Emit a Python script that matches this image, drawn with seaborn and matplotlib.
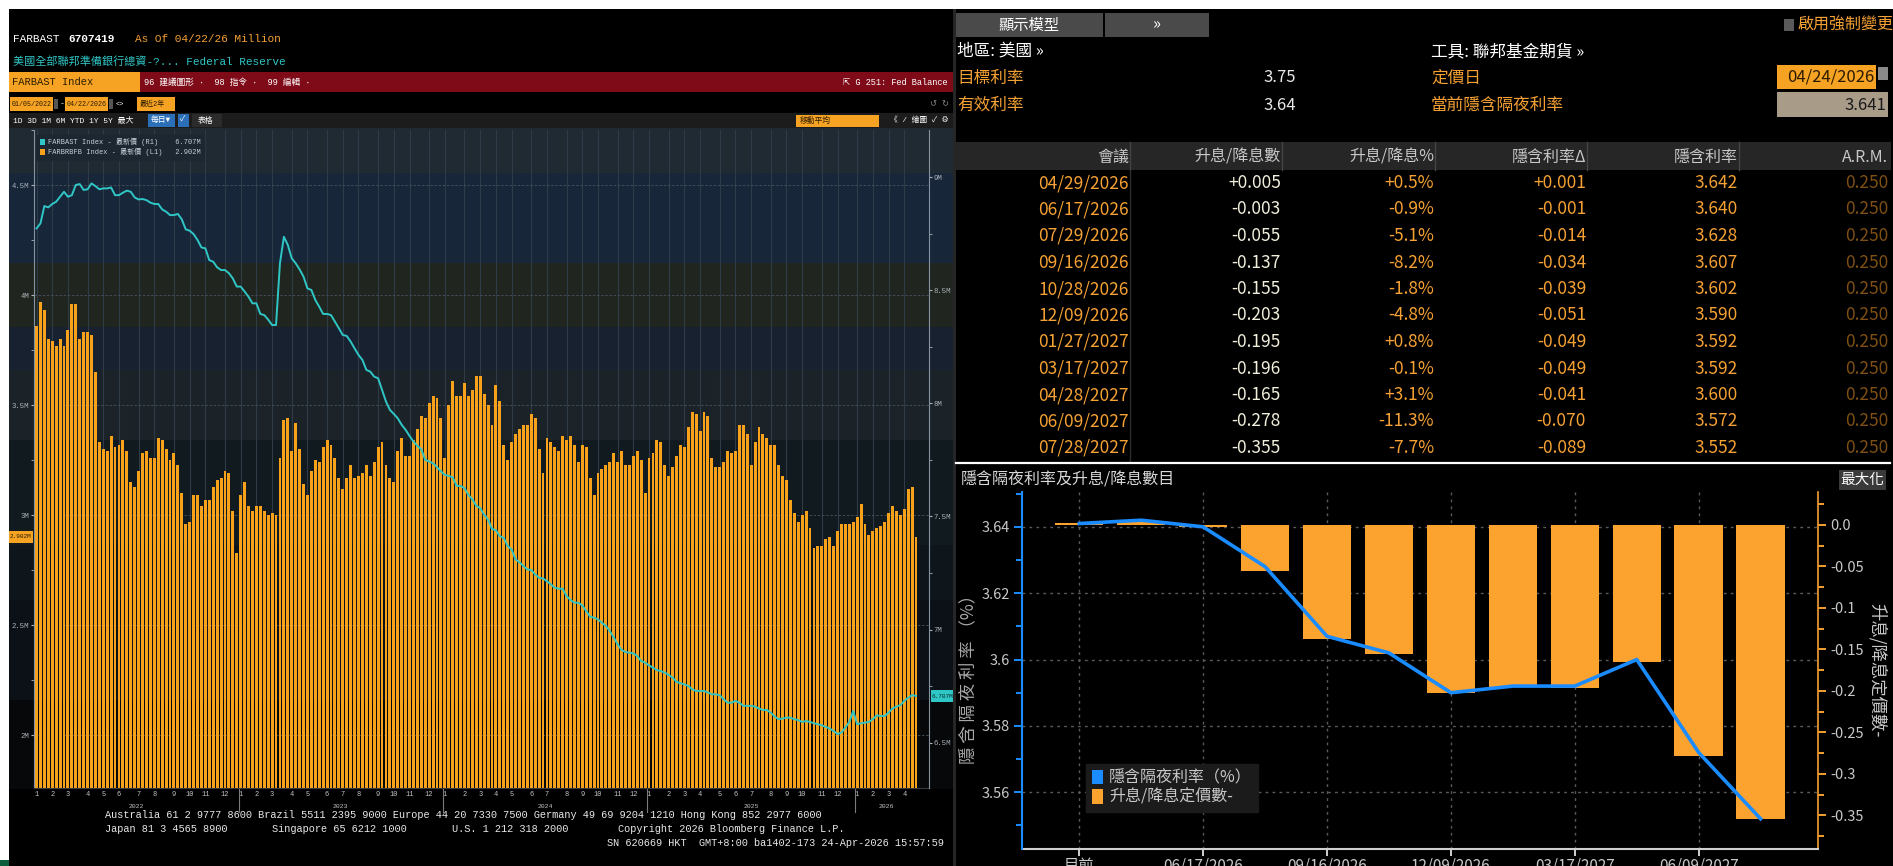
import numpy as np
import pandas as pd
import seaborn as sns
import matplotlib.pyplot as plt
from matplotlib.patches import Rectangle, Patch

W, H = 1893, 866
CJK = ['Noto Sans CJK TC', 'DejaVu Sans']
MONO = ['Liberation Mono', 'Noto Sans CJK TC', 'DejaVu Sans']

plt.rcParams['font.family'] = CJK
plt.rcParams['axes.unicode_minus'] = False

# ---------------- left chart data (weekly, millions -> M) ----------------
# FARBRBFB (reserve balances, left axis, bars)
reserves_2022 = [3.86, 3.97, 3.93, 3.80, 3.79, 3.77, 3.80, 3.77, 3.84, 3.96,
                 3.96, 3.80, 3.83, 3.83, 3.82, 3.65, 3.33, 3.30, 3.29, 3.36,
                 3.31, 3.32, 3.34, 3.29, 3.15, 3.13, 3.20, 3.28, 3.29, 3.26,
                 3.26, 3.35, 3.34, 3.30, 3.25, 3.28, 3.23, 3.10, 2.96, 2.97,
                 3.09, 3.09, 3.04, 3.07, 3.07, 3.13, 3.16, 3.17, 3.20, 3.19,
                 3.02, 2.83]
reserves_2023 = [3.09, 3.15, 3.04, 3.02, 3.04, 3.04, 3.02, 3.00, 3.01, 3.00,
                 3.26, 3.43, 3.44, 3.29, 3.42, 3.30, 3.14, 3.09, 3.20, 3.25,
                 3.24, 3.31, 3.34, 3.32, 3.26, 3.17, 3.12, 3.17, 3.23, 3.17,
                 3.18, 3.19, 3.23, 3.18, 3.24, 3.31, 3.33, 3.23, 3.17, 3.15,
                 3.29, 3.35, 3.27, 3.27, 3.34, 3.39, 3.45, 3.44, 3.51, 3.54,
                 3.53, 3.44]
reserves_2024 = [3.26, 3.50, 3.61, 3.54, 3.54, 3.60, 3.54, 3.57, 3.63, 3.63,
                 3.55, 3.50, 3.41, 3.59, 3.52, 3.32, 3.25, 3.33, 3.37, 3.39,
                 3.41, 3.41, 3.46, 3.44, 3.30, 3.19, 3.35, 3.33, 3.31, 3.29,
                 3.36, 3.34, 3.36, 3.32, 3.24, 3.32, 3.31, 3.17, 3.09, 3.19,
                 3.21, 3.23, 3.24, 3.28, 3.24, 3.29, 3.23, 3.23, 3.27, 3.29,
                 3.25, 3.10]
reserves_2025 = [3.26, 3.28, 3.34, 3.33, 3.23, 3.18, 3.22, 3.27, 3.32, 3.31,
                 3.40, 3.47, 3.46, 3.38, 3.47, 3.45, 3.26, 3.22, 3.22, 3.24,
                 3.29, 3.28, 3.29, 3.41, 3.41, 3.37, 3.23, 3.33, 3.40, 3.37,
                 3.35, 3.32, 3.32, 3.23, 3.18, 3.16, 3.07, 3.01, 2.97, 3.00,
                 3.02, 2.94, 2.85, 2.86, 2.86, 2.89, 2.90, 2.86, 2.93, 2.96,
                 2.96, 2.96, 2.97]
reserves_2026 = [2.99, 3.05, 2.96, 2.91, 2.93, 2.94, 2.95, 2.97, 3.01, 3.04,
                 3.02, 3.00, 3.03, 3.12, 3.13, 2.902]

# FARBAST (total assets, right axis, line)
assets_2022 = [8.773, 8.795, 8.872, 8.866, 8.881, 8.891, 8.913, 8.935, 8.913, 8.920,
               8.965, 8.969, 8.943, 8.946, 8.972, 8.960, 8.946, 8.950, 8.950, 8.954,
               8.920, 8.920, 8.931, 8.940, 8.935, 8.910, 8.901, 8.903, 8.898, 8.887,
               8.881, 8.881, 8.857, 8.847, 8.832, 8.832, 8.837, 8.813, 8.769, 8.763,
               8.748, 8.722, 8.689, 8.685, 8.633, 8.626, 8.601, 8.589, 8.589, 8.575,
               8.552, 8.516]
assets_2023 = [8.516, 8.494, 8.471, 8.442, 8.442, 8.395, 8.390, 8.370, 8.346, 8.346,
               8.619, 8.736, 8.700, 8.641, 8.619, 8.592, 8.560, 8.508, 8.501, 8.457,
               8.427, 8.395, 8.395, 8.390, 8.361, 8.332, 8.302, 8.298, 8.273, 8.243,
               8.214, 8.192, 8.148, 8.140, 8.118, 8.111, 8.059, 8.008, 7.971, 7.953,
               7.934, 7.905, 7.883, 7.856, 7.831, 7.812, 7.797, 7.750, 7.743, 7.735,
               7.718, 7.699]
assets_2024 = [7.684, 7.679, 7.673, 7.635, 7.635, 7.625, 7.595, 7.576, 7.547, 7.537,
               7.508, 7.486, 7.445, 7.439, 7.413, 7.405, 7.369, 7.354, 7.310, 7.298,
               7.281, 7.266, 7.263, 7.244, 7.229, 7.226, 7.214, 7.200, 7.185, 7.181,
               7.181, 7.148, 7.131, 7.119, 7.119, 7.107, 7.082, 7.057, 7.053, 7.045,
               7.030, 7.016, 6.994, 6.965, 6.935, 6.910, 6.901, 6.898, 6.895, 6.883,
               6.861, 6.854]
assets_2025 = [6.842, 6.832, 6.821, 6.817, 6.810, 6.800, 6.788, 6.769, 6.763, 6.758,
               6.751, 6.736, 6.729, 6.729, 6.729, 6.722, 6.714, 6.714, 6.710, 6.692,
               6.677, 6.677, 6.685, 6.677, 6.663, 6.663, 6.663, 6.660, 6.651, 6.645,
               6.645, 6.633, 6.616, 6.604, 6.607, 6.611, 6.611, 6.604, 6.600, 6.592,
               6.596, 6.592, 6.586, 6.582, 6.577, 6.570, 6.563, 6.552, 6.538, 6.545,
               6.567, 6.592, 6.640]
assets_2026 = [6.582, 6.586, 6.589, 6.592, 6.604, 6.621, 6.618, 6.618, 6.633, 6.651,
               6.660, 6.666, 6.685, 6.699, 6.710, 6.707]

left_ticks = [2.0, 2.5, 3.0, 3.5, 4.0, 4.5]
left_tick_labels = ['2M', '2.5M', '3M', '3.5M', '4M', '4.5M']
right_ticks = [6.5, 7.0, 7.5, 8.0, 8.5, 9.0]
right_tick_labels = ['6.5M', '7M', '7.5M', '8M', '8.5M', '9M']

# ---------------- fed funds futures table ----------------
meetings = ['04/29/2026', '06/17/2026', '07/29/2026', '09/16/2026', '10/28/2026',
            '12/09/2026', '01/27/2027', '03/17/2027', '04/28/2027', '06/09/2027',
            '07/28/2027']
hike_cut_num = [0.005, -0.003, -0.055, -0.137, -0.155, -0.203, -0.195, -0.196,
                -0.165, -0.278, -0.355]
hike_cut_pct = [0.5, -0.9, -5.1, -8.2, -1.8, -4.8, 0.8, -0.1, 3.1, -11.3, -7.7]
implied_delta = [0.001, -0.001, -0.014, -0.034, -0.039, -0.051, -0.049, -0.049,
                 -0.041, -0.070, -0.089]
implied_rate = [3.642, 3.640, 3.628, 3.607, 3.602, 3.590, 3.592, 3.592, 3.600,
                3.572, 3.552]
arm = [0.250] * 11
table_headers = ['會議', '升息/降息數', '升息/降息%', '隱含利率Δ', '隱含利率', 'A.R.M.']

# ---------------- implied rate chart ----------------
chart_labels = ['目前'] + meetings
chart_rate = [3.641] + implied_rate
chart_bars = [0.002] + hike_cut_num
chart_ticks = [0, 2, 4, 6, 8, 10]
rate_ticks = [3.56, 3.58, 3.60, 3.62, 3.64]
rate_tick_labels = ['3.56', '3.58', '3.6', '3.62', '3.64']
count_ticks = [0.0, -0.05, -0.1, -0.15, -0.2, -0.25, -0.3, -0.35]
count_tick_labels = ['0.0', '-0.05', '-0.1', '-0.15', '-0.2', '-0.25', '-0.3', '-0.35']

ORANGE = '#f5a133'
CYAN = '#2fc6c6'
BAR_ORANGE = '#f8a21c'
BLUE = '#1a8cff'


fig = plt.figure(figsize=(W / 100, H / 100), dpi=100)
fig.patch.set_facecolor('white')

bg = fig.add_axes([0, 0, 1, 1], zorder=-1)
bg.set_xlim(0, W)
bg.set_ylim(H, 0)
bg.axis('off')


def axes_px(x0, y0, x1, y1, **kw):
    return fig.add_axes([x0 / W, 1 - y1 / H, (x1 - x0) / W, (y1 - y0) / H], **kw)


def box(x0, y0, x1, y1, color, ax=None):
    (ax or bg).add_patch(Rectangle((x0, y0), x1 - x0, y1 - y0, facecolor=color,
                                   edgecolor='none', lw=0))


def put(x, y, s, color='white', size=8, ha='left', va='center', family=None, ax=None, **kw):
    (ax or bg).text(x, y, s, color=color, fontsize=size, ha=ha, va=va,
                    family=family or CJK, **kw)


# panels
box(9, 9, 953, H, 'black')
box(953, 9, 956, H, '#262626')
box(956, 9, W, H, 'black')
box(0, 860, 9, H, '#0b5d3b')

# ---------------- left panel header ----------------
put(13, 39, 'FARBAST', 'white', 8, family=MONO)
put(68, 39, '6707419', 'white', 8, family=MONO, weight='bold')
put(135, 39, 'As Of 04/22/26 Million', ORANGE, 8, family=MONO)
put(13, 62, '美國全部聯邦準備銀行總資-?... Federal Reserve', CYAN, 8, family=MONO)
box(9, 72, 953, 92, '#7e0b17')
box(9, 72, 140, 92, '#f6a323')
put(12, 82, 'FARBAST Index', '#2a1a00', 7.5, family=MONO)
put(144, 82, '96 建議圖形 ·  98 指令 ·  99 編輯 ·', 'white', 6.2, family=MONO)
put(948, 82, '⇱ G 251: Fed Balance', 'white', 6.2, ha='right', family=MONO)

box(10, 97, 53, 111, '#f6a323')
put(31.5, 104, '01/05/2022', '#2a1a00', 4.8, ha='center', family=MONO)
box(54, 99, 58, 109, '#555555')
put(60, 104, '-', 'white', 6, family=MONO)
box(65, 97, 108, 111, '#f6a323')
put(86.5, 104, '04/22/2026', '#2a1a00', 4.8, ha='center', family=MONO)
box(109, 99, 113, 109, '#555555')
put(116, 104, '<>', 'white', 5, family=MONO)
box(137, 97, 175, 111, '#f6a323')
put(140, 104, '最近2年', '#2a1a00', 5, family=MONO)
put(949, 104, '↺ ↻', '#888888', 6, ha='right', family=MONO)

box(9, 113, 953, 128, '#1c1c1c')
put(13, 120.5, '1D 3D 1M 6M YTD 1Y 5Y 最大', 'white', 5.8, family=MONO)
box(148, 114, 175, 127, '#2a6fb8')
put(151, 120.5, '每日▼', 'white', 5.6, family=MONO)
box(178, 114, 189, 127, '#2a6fb8')
put(180, 120.5, '✓', 'white', 5.6, family=MONO)
box(192, 114, 222, 127, '#2b2b2b')
put(198, 120.5, '表格', 'white', 5.6, family=MONO)
box(796, 115, 879, 127, '#f6a323')
put(800, 121, '移動平均', '#2a1a00', 5.6, family=MONO)
put(949, 120.5, '《 / 繪圖 ✓ ⚙', 'white', 5.6, ha='right', family=MONO)

# chart background bands
bands = [(128, 173, '#1f2a33'), (173, 263, '#18263a'), (263, 327, '#20261f'),
         (327, 370, '#182130'), (370, 440, '#1b2329'), (440, 545, '#111a1e'),
         (545, 600, '#0f161b'), (600, 700, '#0b1116'), (700, 789, '#060809')]
for y0, y1, c in bands:
    box(9, y0, 953, y1, c)

# ---------------- left chart ----------------
reserves = reserves_2022 + reserves_2023 + reserves_2024 + reserves_2025 + reserves_2026
assets = assets_2022 + assets_2023 + assets_2024 + assets_2025 + assets_2026
n = len(reserves)
weeks = pd.date_range('2022-01-05', periods=n, freq='W-WED')
fed = pd.DataFrame({'week': np.arange(n), 'reserves': reserves, 'assets': assets})

ax = axes_px(34, 130, 929, 788)
ax.patch.set_alpha(0)
sns.barplot(data=fed, x='week', y='reserves', native_scale=True, errorbar=None,
            color=BAR_ORANGE, saturation=1, width=0.74, ax=ax)
xlim = (-0.64, n - 1 + 3.3)
ax.set_xlim(*xlim)
ax.set_ylim(1.76, 4.74)
ax.set_yticks(left_ticks)
ax.set_yticklabels(left_tick_labels, family=MONO)
ax.set_yticks([v + 0.25 for v in left_ticks], minor=True)
month_idx = [i for i in range(n) if i == 0 or weeks[i].month != weeks[i - 1].month]
ax.set_xticks(month_idx)
ax.set_xticklabels([str(weeks[i].month) for i in month_idx], family=MONO)
ax.tick_params(axis='x', length=0, pad=2.5, labelsize=5, labelcolor='#c4c4c4')
ax.tick_params(axis='y', which='both', length=2, pad=1.5, labelsize=5.2,
               labelcolor='#aab2ba', color='#aab2ba')
ax.set_axisbelow(True)
ax.grid(True, axis='x', color='#2f3b46', lw=0.8)
ax.grid(True, axis='y', color='#46525c', lw=0.6, ls=(0, (3, 2)))
ax.set_xlabel('')
ax.set_ylabel('')
for s in ['top', 'right']:
    ax.spines[s].set_visible(False)
ax.spines['left'].set_color('#8593a0')
ax.spines['bottom'].set_color('#3a3a3a')

for yr in sorted(set(weeks.year)):
    idx = np.where(weeks.year == yr)[0]
    ax.text(idx.mean(), -0.028, str(yr), transform=ax.get_xaxis_transform(),
            ha='center', va='center', fontsize=4.6, color='#c4c4c4', family=MONO)
    if idx[0] > 0:
        ax.plot([idx[0] - 0.5] * 2, [-0.002, -0.036], transform=ax.get_xaxis_transform(),
                clip_on=False, color='#7a7a7a', lw=0.8)

ax2 = ax.twinx()
sns.lineplot(data=fed, x='week', y='assets', color=CYAN, linewidth=1.4, ax=ax2)
ax2.set_xlim(*xlim)
ax2.set_ylim(6.30, 9.208)
ax2.set_yticks(right_ticks)
ax2.set_yticklabels(right_tick_labels, family=MONO)
ax2.set_yticks([v + 0.25 for v in right_ticks[:-1]], minor=True)
ax2.tick_params(axis='y', which='both', length=2, pad=1.5, labelsize=5.2,
                labelcolor='#aab2ba', color='#aab2ba')
ax2.set_ylabel('')
ax2.set_xlabel('')
for s in ['top', 'left', 'bottom']:
    ax2.spines[s].set_visible(False)
ax2.spines['right'].set_color('#8593a0')
ax2.legend(handles=[Patch(fc=CYAN), Patch(fc=BAR_ORANGE)],
           labels=['FARBAST Index - 最新價 (R1)    6.707M',
                   'FARBRBFB Index - 最新價 (L1)   2.902M'],
           loc='upper left', bbox_to_anchor=(0.003, 0.993), borderaxespad=0,
           prop={'family': MONO, 'size': 5}, labelcolor='#c8d0d8',
           facecolor='#1c2731', edgecolor='#1c2731', framealpha=1, fancybox=False,
           handlelength=0.8, handleheight=0.9, handletextpad=0.4,
           borderpad=0.45, labelspacing=0.3)

# footer
put(105, 815, 'Australia 61 2 9777 8600 Brazil 5511 2395 9000 Europe 44 20 7330 7500 '
    'Germany 49 69 9204 1210 Hong Kong 852 2977 6000', '#e8e8e8', 7.4, family=MONO)
put(105, 829, 'Japan 81 3 4565 8900', '#e8e8e8', 7.4, family=MONO)
put(272, 829, 'Singapore 65 6212 1000', '#e8e8e8', 7.4, family=MONO)
put(452, 829, 'U.S. 1 212 318 2000', '#e8e8e8', 7.4, family=MONO)
put(618, 829, 'Copyright 2026 Bloomberg Finance L.P.', '#e8e8e8', 7.4, family=MONO)
put(944, 843, 'SN 620669 HKT  GMT+8:00 ba1402-173 24-Apr-2026 15:57:59', '#e8e8e8', 7.4,
    ha='right', family=MONO)

# ---------------- right panel: header ----------------
box(956, 13, 1103, 37, '#4a4a4a')
put(1029, 25, '顯示模型', 'white', 11, ha='center')
box(1105, 13, 1209, 37, '#4a4a4a')
put(1157, 25, '»', 'white', 12, ha='center')
box(1784, 19, 1794, 31, '#5a5a5a')
put(1798, 25, '啟用強制變更', ORANGE, 11.5)

put(957, 52, '地區: 美國 »', 'white', 12)
put(1431, 52, '工具: 聯邦基金期貨 »', 'white', 12)
put(957, 78, '目標利率', ORANGE, 12)
put(1296, 78, '3.75', '#e8e8e8', 12, ha='right')
put(1431, 78, '定價日', ORANGE, 12)
put(957, 105, '有效利率', ORANGE, 12)
put(1296, 105, '3.64', '#e8e8e8', 12, ha='right')
put(1431, 105, '當前隱含隔夜利率', ORANGE, 12)
box(1777, 65, 1876, 89, '#f6a323')
put(1874, 77, '04/24/2026', '#2a1a00', 12, ha='right')
box(1878, 67, 1888, 80, '#8a8a8a')
box(1777, 92, 1888, 117, '#a89b88')
put(1886, 105, '3.641', '#1a1a1a', 12, ha='right')

# table
col_right = [1129, 1281, 1434, 1586, 1738, 1888]
box(956, 142, 1891, 170, '#262626')
for x in col_right[:-1]:
    bg.plot([x + 1, x + 1], [142, 170], color='#444444', lw=1)
bg.plot([col_right[0] + 1] * 2, [170, 462], color='#2c2c2c', lw=1)
for x, h in zip(col_right, table_headers):
    put(x, 157, h, '#c8c8c8', 11.5, ha='right')

col_colors = [ORANGE, '#f2efdc', ORANGE, ORANGE, ORANGE, '#7e4f14']
for k, m in enumerate(meetings):
    y = 183 + k * 26.5
    cells = [m, f'{hike_cut_num[k]:+.3f}', f'{hike_cut_pct[k]:+.1f}%',
             f'{implied_delta[k]:+.3f}', f'{implied_rate[k]:.3f}', f'{arm[k]:.3f}']
    for x, s, c in zip(col_right, cells, col_colors):
        put(x, y, s, c, 12.5, ha='right')

bg.plot([956, 1890], [463, 463], color='white', lw=1.6)

# ---------------- implied rate chart ----------------
put(961, 480, '隱含隔夜利率及升息/降息數目', '#d8d8d8', 11.5)
box(1839, 470, 1886, 490, '#3a3a3a')
put(1862, 480, '最大化', 'white', 10.5, ha='center')
put(968, 675, '隱 含 隔 夜 利 率 （%）', '#a8a8a8', 12.5, ha='center', rotation=90)
put(1877, 670, '升息/降息定價數-', '#c8c8c8', 12.5, ha='center', rotation=270)

fut = pd.DataFrame({'pos': np.arange(len(chart_labels)), 'label': chart_labels,
                    'bars': chart_bars, 'rate': chart_rate})
ax_bar = axes_px(1022, 492, 1818, 849)
ax_bar.set_facecolor('black')
sns.barplot(data=fut, x='pos', y='bars', native_scale=True, errorbar=None,
            color='#fba22f', saturation=1, width=0.78, ax=ax_bar)
ax_line = ax_bar.twinx()
sns.lineplot(data=fut, x='pos', y='rate', color=BLUE, linewidth=2.6, ax=ax_line)

cx = (-0.925, 11.927)
rate_lim = (3.5429, 3.6505)
ax_bar.set_xlim(*cx)
ax_line.set_xlim(*cx)
ax_bar.set_ylim(-0.3906, 0.0397)
ax_line.set_ylim(*rate_lim)

for v in rate_ticks:
    f = (v - rate_lim[0]) / (rate_lim[1] - rate_lim[0])
    ax_bar.plot([0, 1], [f, f], transform=ax_bar.transAxes, ls=(0, (2, 3)),
                color='#5a5a5a', lw=1, zorder=0)
for p in chart_ticks:
    ax_bar.axvline(p, ls=(0, (2, 3)), color='#5a5a5a', lw=1, zorder=0)

ax_bar.yaxis.tick_right()
ax_line.yaxis.tick_left()
ax_bar.set_yticks(count_ticks)
ax_bar.set_yticklabels(count_tick_labels)
ax_bar.set_yticks([v - 0.025 for v in count_ticks] + [0.025], minor=True)
ax_line.set_yticks(rate_ticks)
ax_line.set_yticklabels(rate_tick_labels)
ax_line.set_yticks([v - 0.01 for v in rate_ticks] + [3.65], minor=True)
ax_bar.set_xticks(chart_ticks)
ax_bar.set_xticklabels([chart_labels[i] for i in chart_ticks])

ax_bar.tick_params(axis='y', which='both', right=True, left=False, color='#f5a030',
                   width=1.4, labelcolor='#c8c8c8', labelsize=10.5, pad=3)
ax_bar.tick_params(axis='y', which='major', length=6)
ax_bar.tick_params(axis='y', which='minor', length=4)
ax_line.tick_params(axis='y', which='both', left=True, right=False, color=BLUE,
                    width=1.4, labelcolor='#c8c8c8', labelsize=10.5, pad=3)
ax_line.tick_params(axis='y', which='major', length=6)
ax_line.tick_params(axis='y', which='minor', length=4)
ax_bar.tick_params(axis='x', color='#d0d0d0', length=5, width=1.4,
                   labelcolor='#c8c8c8', labelsize=11, pad=1)
for a in (ax_bar, ax_line):
    a.set_xlabel('')
    a.set_ylabel('')
    a.spines['top'].set_visible(False)
ax_bar.spines['left'].set_visible(False)
ax_bar.spines['right'].set_color('#f5a030')
ax_bar.spines['right'].set_linewidth(1.2)
ax_bar.spines['bottom'].set_color('#d0d0d0')
ax_bar.spines['bottom'].set_linewidth(1.5)
ax_line.spines['right'].set_visible(False)
ax_line.spines['bottom'].set_visible(False)
ax_line.spines['left'].set_color(BLUE)
ax_line.spines['left'].set_linewidth(1.5)

ax_line.legend(handles=[Patch(fc=BLUE), Patch(fc='#fba22f')],
               labels=['隱含隔夜利率（%）', '升息/降息定價數-'],
               loc='upper left', bbox_to_anchor=((1086 - 1022) / 796, (849 - 764) / 357),
               borderaxespad=0, fontsize=11.5, labelcolor='#c8c8c8',
               facecolor='#1b1b1b', edgecolor='#1b1b1b', framealpha=1, fancybox=False,
               handlelength=0.7, handleheight=1.0, handletextpad=0.4,
               borderpad=0.35, labelspacing=0.15)

# ---------------- top overlay: value tags ----------------
fg = fig.add_axes([0, 0, 1, 1], zorder=10)
fg.set_xlim(0, W)
fg.set_ylim(H, 0)
fg.axis('off')
box(9, 531, 33, 543, '#f6a323', ax=fg)
put(21, 537, '2.902M', '#2a1a00', 4.4, ha='center', family=MONO, ax=fg)
box(931, 690, 953, 702, CYAN, ax=fg)
put(942, 696, '6.707M', '#0a2a2a', 4.4, ha='center', family=MONO, ax=fg)

fig.savefig('out.png', dpi=100, facecolor=fig.get_facecolor())
